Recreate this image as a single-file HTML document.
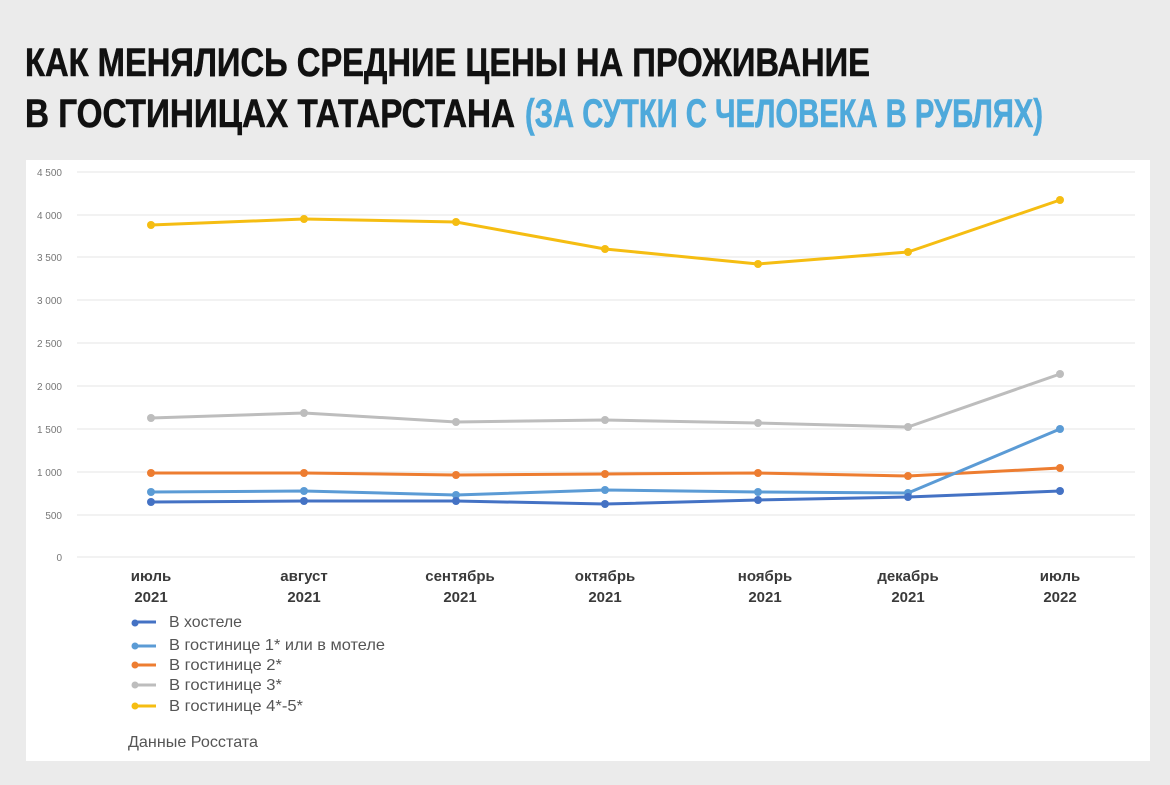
<!DOCTYPE html>
<html><head><meta charset="utf-8"><style>
body{margin:0;background:#ebebeb;}
svg{display:block;}
</style></head><body>
<svg width="1170" height="785" xmlns="http://www.w3.org/2000/svg" font-family="'Liberation Sans', sans-serif">
<rect x="0" y="0" width="1170" height="785" fill="#ebebeb"/>
<g font-family="'Liberation Sans Narrow','Liberation Sans',sans-serif" font-weight="bold" font-size="40" stroke-width="0.6">
<text x="25" y="76" textLength="845" lengthAdjust="spacingAndGlyphs" fill="#111" stroke="#111">КАК МЕНЯЛИСЬ СРЕДНИЕ ЦЕНЫ НА ПРОЖИВАНИЕ</text>
<text x="25" y="127" textLength="490" lengthAdjust="spacingAndGlyphs" fill="#111" stroke="#111">В ГОСТИНИЦАХ ТАТАРСТАНА</text>
<text x="525" y="127" textLength="518" lengthAdjust="spacingAndGlyphs" fill="#4ea9db" stroke="#4ea9db">(ЗА СУТКИ С ЧЕЛОВЕКА В РУБЛЯХ)</text>
</g>
<rect x="26" y="160" width="1124" height="601" fill="#fff"/>
<g stroke="#e6e6e6" stroke-width="1">
<line x1="77" x2="1135" y1="172" y2="172"/><line x1="77" x2="1135" y1="215" y2="215"/>
<line x1="77" x2="1135" y1="257" y2="257"/><line x1="77" x2="1135" y1="300" y2="300"/>
<line x1="77" x2="1135" y1="343" y2="343"/><line x1="77" x2="1135" y1="386" y2="386"/>
<line x1="77" x2="1135" y1="429" y2="429"/><line x1="77" x2="1135" y1="472" y2="472"/>
<line x1="77" x2="1135" y1="515" y2="515"/><line x1="77" x2="1135" y1="557" y2="557"/>
</g>
<g font-size="10" fill="#777" text-anchor="end">
<text x="62" y="176">4 500</text><text x="62" y="219">4 000</text><text x="62" y="261">3 500</text>
<text x="62" y="304">3 000</text><text x="62" y="347">2 500</text><text x="62" y="390">2 000</text>
<text x="62" y="433">1 500</text><text x="62" y="476">1 000</text><text x="62" y="519">500</text>
<text x="62" y="561">0</text>
</g>
<g fill="none" stroke-width="3" stroke-linejoin="round">
<polyline stroke="#f5bd12" points="151,225 304,219 456,222 605,249 758,264 908,252 1060,200"/>
<polyline stroke="#bdbdbd" points="151,418 304,413 456,422 605,420 758,423 908,427 1060,374"/>
<polyline stroke="#ed7d31" points="151,473 304,473 456,475 605,474 758,473 908,476 1060,468"/>
<polyline stroke="#5b9bd5" points="151,492 304,491 456,495 605,490 758,492 908,493 1060,429"/>
<polyline stroke="#4472c4" points="151,502 304,501 456,501 605,504 758,500 908,497 1060,491"/>
</g>
<g fill="#f5bd12"><circle cx="151" cy="225" r="4"/><circle cx="304" cy="219" r="4"/><circle cx="456" cy="222" r="4"/><circle cx="605" cy="249" r="4"/><circle cx="758" cy="264" r="4"/><circle cx="908" cy="252" r="4"/><circle cx="1060" cy="200" r="4"/></g>
<g fill="#bdbdbd"><circle cx="151" cy="418" r="4"/><circle cx="304" cy="413" r="4"/><circle cx="456" cy="422" r="4"/><circle cx="605" cy="420" r="4"/><circle cx="758" cy="423" r="4"/><circle cx="908" cy="427" r="4"/><circle cx="1060" cy="374" r="4"/></g>
<g fill="#ed7d31"><circle cx="151" cy="473" r="4"/><circle cx="304" cy="473" r="4"/><circle cx="456" cy="475" r="4"/><circle cx="605" cy="474" r="4"/><circle cx="758" cy="473" r="4"/><circle cx="908" cy="476" r="4"/><circle cx="1060" cy="468" r="4"/></g>
<g fill="#5b9bd5"><circle cx="151" cy="492" r="4"/><circle cx="304" cy="491" r="4"/><circle cx="456" cy="495" r="4"/><circle cx="605" cy="490" r="4"/><circle cx="758" cy="492" r="4"/><circle cx="908" cy="493" r="4"/><circle cx="1060" cy="429" r="4"/></g>
<g fill="#4472c4"><circle cx="151" cy="502" r="4"/><circle cx="304" cy="501" r="4"/><circle cx="456" cy="501" r="4"/><circle cx="605" cy="504" r="4"/><circle cx="758" cy="500" r="4"/><circle cx="908" cy="497" r="4"/><circle cx="1060" cy="491" r="4"/></g>
<g font-size="15" font-weight="bold" fill="#3a3a3a" text-anchor="middle">
<text x="151" y="581">июль</text><text x="151" y="602">2021</text>
<text x="304" y="581">август</text><text x="304" y="602">2021</text>
<text x="460" y="581">сентябрь</text><text x="460" y="602">2021</text>
<text x="605" y="581">октябрь</text><text x="605" y="602">2021</text>
<text x="765" y="581">ноябрь</text><text x="765" y="602">2021</text>
<text x="908" y="581">декабрь</text><text x="908" y="602">2021</text>
<text x="1060" y="581">июль</text><text x="1060" y="602">2022</text>
</g>
<g stroke-width="3">
<line x1="134" x2="156" y1="622" y2="622" stroke="#4472c4"/>
<line x1="134" x2="156" y1="646" y2="646" stroke="#5b9bd5"/>
<line x1="134" x2="156" y1="665" y2="665" stroke="#ed7d31"/>
<line x1="134" x2="156" y1="685" y2="685" stroke="#bdbdbd"/>
<line x1="134" x2="156" y1="706" y2="706" stroke="#f5bd12"/>
</g>
<circle cx="135" cy="623" r="3.5" fill="#4472c4"/><circle cx="135" cy="646" r="3.5" fill="#5b9bd5"/>
<circle cx="135" cy="665" r="3.5" fill="#ed7d31"/><circle cx="135" cy="685" r="3.5" fill="#bdbdbd"/>
<circle cx="135" cy="706" r="3.5" fill="#f5bd12"/>
<g font-size="16" fill="#555">
<text x="169" y="627" textLength="73" lengthAdjust="spacingAndGlyphs">В хостеле</text>
<text x="169" y="650" textLength="216" lengthAdjust="spacingAndGlyphs">В гостинице 1* или в мотеле</text>
<text x="169" y="670" textLength="113" lengthAdjust="spacingAndGlyphs">В гостинице 2*</text>
<text x="169" y="690" textLength="113" lengthAdjust="spacingAndGlyphs">В гостинице 3*</text>
<text x="169" y="711" textLength="134" lengthAdjust="spacingAndGlyphs">В гостинице 4*-5*</text>
<text x="128" y="747" textLength="130" lengthAdjust="spacingAndGlyphs">Данные Росстата</text>
</g>
</svg>
</body></html>
